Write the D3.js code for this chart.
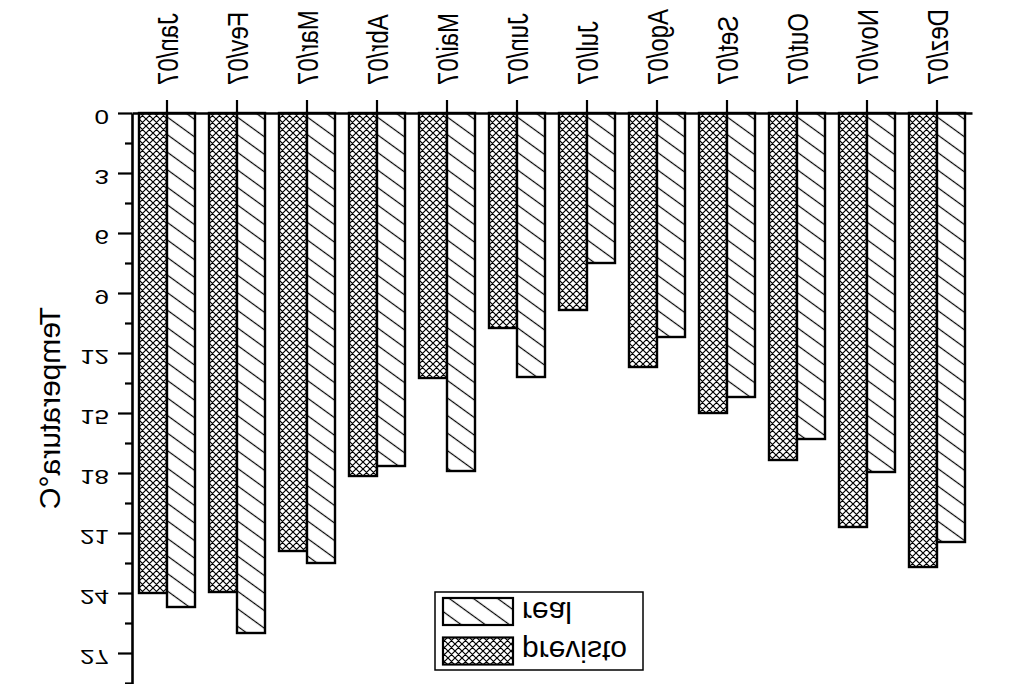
<!DOCTYPE html>
<html>
<head>
<meta charset="utf-8">
<script src="https://cdn.jsdelivr.net/npm/d3@7"></script>
<style>
  html, body { margin: 0; padding: 0; background: #fff; }
  svg { display: block; }
  text { font-family: "Liberation Sans", Arial, sans-serif; fill: #000; }
</style>
</head>
<body>
<svg id="chart" width="1024" height="684"></svg>
<script>
// ---- data ----
const months = ["Jan/07","Fev/07","Mar/07","Abr/07","Mai/07","Jun/07","Jul/07","Ago/07","Set/07","Out/07","Nov/07","Dez/07"];
const previsto = [24.0, 23.95, 21.9, 18.15, 13.25, 10.75, 9.85, 12.7, 15.0, 17.35, 20.7, 22.7];
const real     = [24.7, 26.0, 22.5, 17.65, 17.9, 13.2, 7.5, 11.2, 14.2, 16.3, 17.95, 21.45];
const seriesNames = ["previsto", "real"];
const yTickValues = [0, 3, 6, 9, 12, 15, 18, 21, 24, 27];
const yMinorValues = [1.5, 4.5, 7.5, 10.5, 13.5, 16.5, 19.5, 22.5, 25.5, 28.5];
const yTitle = "Temperatura°C";

const svg = d3.select("#chart");
const defs = svg.append("defs");

// crosshatch for "previsto"
const P = 7;
const cross = defs.append("pattern").attr("id", "cross")
  .attr("patternUnits", "userSpaceOnUse").attr("width", P).attr("height", P);
cross.append("rect").attr("width", P).attr("height", P).attr("fill", "#fff");
cross.append("path")
  .attr("d", `M0,0L${P},${P}M${P},0L0,${P}M-1,${P-1}L1,${P+1}M${P-1},-1L${P+1},1M-1,1L1,-1M${P-1},${P+1}L${P+1},${P-1}`)
  .attr("stroke", "#000").attr("stroke-width", 1.2);

// diagonal hatch "\" for "real"
const diag = defs.append("pattern").attr("id", "diag")
  .attr("patternUnits", "userSpaceOnUse").attr("width", 20).attr("height", 14.2)
  .attr("patternTransform", "rotate(36)");
diag.append("rect").attr("width", 20).attr("height", 14.2).attr("fill", "#fff");
diag.append("line").attr("x1", 0).attr("x2", 20).attr("y1", 7.1).attr("y2", 7.1)
  .attr("stroke", "#000").attr("stroke-width", 1.2);

const fills = { previsto: "url(#cross)", real: "url(#diag)" };

// ---- scales ----
const x = d3.scaleBand().domain(months).range([132, 972]).paddingInner(0.2).paddingOuter(0.1);
const xs = d3.scaleBand().domain(seriesNames).range([0, x.bandwidth()]);
const y = d3.scaleLinear().domain([0, 30]).range([113, 713]);

const rows = months.map((m, i) => ({ m, previsto: previsto[i], real: real[i] }));

// ---- bars ----
const groups = svg.append("g").selectAll("g").data(rows).join("g")
  .attr("transform", d => `translate(${x(d.m)},0)`);
groups.selectAll("rect").data(d => seriesNames.map(s => ({ s, v: d[s] }))).join("rect")
  .attr("x", d => xs(d.s))
  .attr("width", xs.bandwidth())
  .attr("y", y(0))
  .attr("height", d => y(d.v) - y(0))
  .attr("fill", d => fills[d.s])
  .attr("stroke", "#000").attr("stroke-width", 2.4);

// ---- top (category) axis ----
const xAxis = svg.append("g").attr("transform", `translate(0,${y(0)})`)
  .call(d3.axisTop(x).tickSize(13).tickSizeOuter(0));
xAxis.select(".domain").attr("stroke-width", 2.6);
xAxis.selectAll(".tick line").attr("stroke-width", 2.2);
xAxis.selectAll(".tick text")
  .attr("x", null).attr("y", null).attr("dy", null)
  .attr("font-size", 30)
  .attr("text-anchor", "end")
  .attr("transform", "matrix(0,0.8,1,0,10.7,-28)");

// ---- left (value) axis ----
const yAxis = svg.append("g").attr("transform", `translate(132,0)`)
  .call(d3.axisLeft(y).tickValues(yTickValues).tickFormat(d3.format("d")).tickSize(14).tickSizeOuter(0));
yAxis.select(".domain").attr("stroke-width", 2.6);
yAxis.selectAll(".tick line").attr("stroke-width", 2.2);
yAxis.selectAll(".tick text")
  .attr("x", null).attr("y", null).attr("dy", null)
  .attr("font-size", 20)
  .attr("text-anchor", "end")
  .attr("transform", "matrix(1.3,0,0,-1,-23,-4)");

svg.append("g").attr("transform", `translate(132,0)`)
  .call(d3.axisLeft(y).tickValues(yMinorValues).tickFormat("").tickSize(7).tickSizeOuter(0))
  .call(g => g.select(".domain").remove())
  .selectAll(".tick line").attr("stroke-width", 2.2);

// ---- y title (mirrored, vertical) ----
svg.append("text")
  .attr("font-size", 30)
  .attr("text-anchor", "start")
  .attr("transform", "matrix(0,1,1,0,60,307)")
  .text(yTitle);

// ---- legend ----
const legend = svg.append("g");
legend.append("rect").attr("x", 435).attr("y", 592).attr("width", 208).attr("height", 78)
  .attr("fill", "#fff").attr("stroke", "#000").attr("stroke-width", 1.5);
const legendItems = ["real", "previsto"];
const legendTop = [598, 637.5];
const legendBase = [602, 641];
legendItems.forEach((s, i) => {
  legend.append("rect").attr("x", 443).attr("y", legendTop[i]).attr("width", 70).attr("height", 27)
    .attr("fill", fills[s]).attr("stroke", "#000").attr("stroke-width", 2.2);
  legend.append("text").attr("font-size", 30)
    .attr("transform", `matrix(1,0,0,-1,522,${legendBase[i]})`)
    .text(s);
});
</script>
</body>
</html>
